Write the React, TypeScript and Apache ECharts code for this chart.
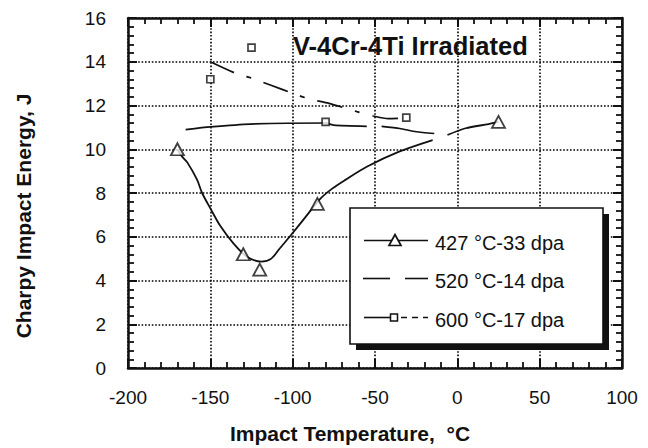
import React, { useEffect, useRef } from "react";
import * as echarts from "echarts";

// ---- axis ranges / ticks ----
const X_MIN = -200;
const X_MAX = 100;
const X_STEP = 50;
const Y_MIN = 0;
const Y_MAX = 16;
const Y_STEP = 2;

// ---- texts ----
const CHART_TITLE = "V-4Cr-4Ti Irradiated";
const X_NAME = "Impact Temperature,  °C";
const Y_NAME = "Charpy Impact Energy, J";
const SERIES_NAMES = ["427 °C-33 dpa", "520 °C-14 dpa", "600 °C-17 dpa"];

// ---- 427 °C-33 dpa : measured points (triangles) ----
const tri427T = [-170, -130, -120, -85, 25];
const tri427E = [10.0, 5.2, 4.5, 7.5, 11.25];
// fitted curve (null = break in the drawn line)
const fit427T = [-170, -167, -164, -158, -155, -150, -144, -136, -128, -119, -113, -108, -101, -92, -83, -76, -68, -55, -35, -15, -10, -6, 5, 19, 25];
const fit427E = [10.0, 9.65, 9.4, 8.6, 8.0, 7.3, 6.5, 5.7, 5.1, 4.86, 5.0, 5.45, 6.08, 6.92, 7.75, 8.2, 8.6, 9.2, 9.9, 10.42, null, 10.65, 10.96, 11.15, 11.25];

// ---- 520 °C-14 dpa : dashed curve ----
const fit520T = [-150, -134, -125, -114, -98, -90, -78, -61, -51, -42, -33];
const fit520E = [14.0, 13.45, 13.25, 12.95, 12.5, 12.3, 12.1, 11.72, 11.52, 11.4, 11.42];

// ---- 600 °C-17 dpa : curve and squares ----
const fit600T = [-165, -150, -126, -80, -75, -55, -51, -46, -35, -25, -14];
const fit600E = [10.9, 11.02, 11.15, 11.2, 11.1, 11.05, null, 11.05, 10.95, 10.8, 10.72];
const sq600T = [-150, -125, -80, -31];
const sq600E = [13.2, 14.65, 11.25, 11.45];

const FONT = '"Liberation Sans", Arial, Helvetica, sans-serif';
const INK = "#111111";

function pairs(xs: number[], ys: (number | null)[]) {
  return xs.map((x, i) => [x, ys[i] === null ? "-" : ys[i]]);
}

function makeAxis(kind: "x" | "y", position: string, withLabels: boolean) {
  const isX = kind === "x";
  return {
    type: "value",
    position,
    min: isX ? X_MIN : Y_MIN,
    max: isX ? X_MAX : Y_MAX,
    interval: isX ? X_STEP : Y_STEP,
    axisLine: { show: true, onZero: false, lineStyle: { color: INK, width: 2.5 } },
    axisTick: { show: true, inside: true, length: 9, lineStyle: { color: INK, width: 2 } },
    minorTick: { show: true, splitNumber: 5, length: 6, lineStyle: { color: INK, width: 1.8 } },
    splitLine: withLabels
      ? { show: true, lineStyle: { color: "#000", width: 1.6, type: [1.6, 1.8] } }
      : { show: false },
    axisLabel: withLabels
      ? { show: true, fontSize: 19, color: INK, margin: isX ? 20 : 22, fontFamily: FONT }
      : { show: false },
  };
}

export default function App() {
  const ref = useRef<HTMLDivElement>(null);

  useEffect(() => {
    if (!ref.current) return;
    const chart = echarts.init(ref.current, null, { renderer: "svg" });

    const legendRows = [240.5, 278.5, 317.5];
    const legendTextX = 435;
    const legendFont = { fontSize: 20, fontFamily: FONT, fill: INK };

    chart.setOption({
      animation: false,
      backgroundColor: "#ffffff",
      textStyle: { fontFamily: FONT, color: INK },
      grid: { left: 128, right: 26, top: 18, bottom: 80 },
      xAxis: [makeAxis("x", "bottom", true), makeAxis("x", "top", false)],
      yAxis: [makeAxis("y", "left", true), makeAxis("y", "right", false)],
      series: [
        {
          name: SERIES_NAMES[0], type: "line", xAxisIndex: 0, yAxisIndex: 0,
          data: pairs(fit427T, fit427E), smooth: 0.3, symbol: "none", showSymbol: false,
          connectNulls: false, lineStyle: { color: INK, width: 1.8 }, z: 3,
        },
        {
          name: SERIES_NAMES[0], type: "scatter", xAxisIndex: 0, yAxisIndex: 0,
          data: pairs(tri427T, tri427E), symbol: "triangle", symbolSize: [13, 12],
          itemStyle: { color: "#ffffff", borderColor: INK, borderWidth: 1.8 }, z: 5,
        },
        {
          name: SERIES_NAMES[1], type: "line", xAxisIndex: 0, yAxisIndex: 0,
          data: pairs(fit520T, fit520E), smooth: 0.2, symbol: "none", showSymbol: false,
          lineStyle: { color: INK, width: 1.7, type: [26, 13, 5, 13] }, z: 3,
        },
        {
          name: SERIES_NAMES[2], type: "line", xAxisIndex: 0, yAxisIndex: 0,
          data: pairs(fit600T, fit600E), smooth: 0.2, symbol: "none", showSymbol: false,
          connectNulls: false, lineStyle: { color: INK, width: 1.7 }, z: 3,
        },
        {
          name: SERIES_NAMES[2], type: "scatter", xAxisIndex: 0, yAxisIndex: 0,
          data: pairs(sq600T, sq600E), symbol: "rect", symbolSize: 7,
          itemStyle: { color: "#ffffff", borderColor: INK, borderWidth: 1.7 }, z: 5,
        },
      ],
      graphic: [
        {
          type: "text", x: 293, y: 46, z: 60,
          style: { text: CHART_TITLE, fontSize: 25.5, fontWeight: "bold", fontFamily: FONT, fill: INK, align: "left", verticalAlign: "middle" },
        },
        {
          type: "text", x: 350, y: 433, z: 60,
          style: { text: X_NAME, fontSize: 21, fontWeight: "bold", fontFamily: FONT, fill: INK, align: "center", verticalAlign: "middle" },
        },
        {
          type: "text", x: 23, y: 216, rotation: Math.PI / 2, z: 60,
          style: { text: Y_NAME, fontSize: 21, fontWeight: "bold", fontFamily: FONT, fill: INK, align: "center", verticalAlign: "middle" },
        },
        // legend box with offset shadow
        { type: "rect", z: 50, shape: { x: 356, y: 214, width: 253, height: 136 }, style: { fill: INK } },
        { type: "rect", z: 51, shape: { x: 350, y: 208, width: 253, height: 136 }, style: { fill: "#ffffff", stroke: INK, lineWidth: 1.6 } },
        // row 1
        { type: "line", z: 52, shape: { x1: 364, y1: legendRows[0], x2: 428, y2: legendRows[0] }, style: { stroke: INK, lineWidth: 1.6 } },
        {
          type: "polygon", z: 53,
          shape: { points: [[389, legendRows[0] + 5], [401, legendRows[0] + 5], [395, legendRows[0] - 6]] },
          style: { fill: "#ffffff", stroke: INK, lineWidth: 1.7 },
        },
        { type: "text", z: 52, x: legendTextX, y: legendRows[0] + 2, style: { text: SERIES_NAMES[0], ...legendFont, align: "left", verticalAlign: "middle" } },
        // row 2
        { type: "line", z: 52, shape: { x1: 363, y1: legendRows[1], x2: 390, y2: legendRows[1] }, style: { stroke: INK, lineWidth: 1.6 } },
        { type: "line", z: 52, shape: { x1: 405, y1: legendRows[1], x2: 428, y2: legendRows[1] }, style: { stroke: INK, lineWidth: 1.6 } },
        { type: "text", z: 52, x: legendTextX, y: legendRows[1] + 2, style: { text: SERIES_NAMES[1], ...legendFont, align: "left", verticalAlign: "middle" } },
        // row 3
        { type: "line", z: 52, shape: { x1: 364, y1: legendRows[2], x2: 390, y2: legendRows[2] }, style: { stroke: INK, lineWidth: 1.6 } },
        { type: "line", z: 52, shape: { x1: 401, y1: legendRows[2], x2: 428, y2: legendRows[2] }, style: { stroke: INK, lineWidth: 1.6, lineDash: [6, 5] } },
        { type: "rect", z: 53, shape: { x: 390.5, y: legendRows[2] - 3.5, width: 7, height: 7 }, style: { fill: "#ffffff", stroke: INK, lineWidth: 1.5 } },
        { type: "text", z: 52, x: legendTextX, y: legendRows[2] + 2, style: { text: SERIES_NAMES[2], ...legendFont, align: "left", verticalAlign: "middle" } },
      ],
    });

    return () => chart.dispose();
  }, []);

  return (
    <div
      ref={ref}
      style={{ position: "fixed", left: 0, top: 0, width: 648, height: 448, background: "#fff" }}
    />
  );
}
